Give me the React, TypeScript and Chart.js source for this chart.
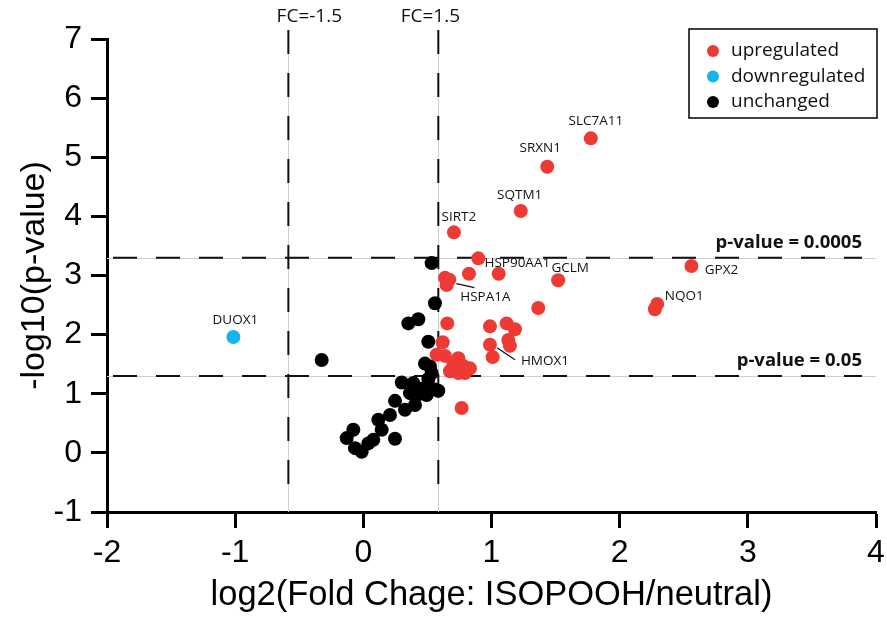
import React, { useEffect, useRef } from "react";
import { Chart, registerables } from "chart.js";

Chart.register(...registerables);

// ---------- data ----------
const upX = [1.775, 1.435, 1.228, 0.707, 0.897, 0.824, 1.056, 2.56, 1.52, 2.293, 2.275, 1.365, 0.637, 0.671, 0.65, 0.655, 0.988, 1.118, 1.183, 1.131, 1.144, 0.988, 1.009, 0.619, 0.572, 0.637, 0.741, 0.702, 0.78, 0.832, 0.676, 0.741, 0.793, 0.767];
const upY = [5.32, 4.84, 4.09, 3.73, 3.29, 3.03, 3.03, 3.16, 2.92, 2.52, 2.43, 2.45, 2.96, 2.93, 2.84, 2.19, 2.14, 2.19, 2.09, 1.91, 1.81, 1.83, 1.62, 1.87, 1.66, 1.64, 1.6, 1.49, 1.47, 1.43, 1.38, 1.35, 1.35, 0.76];
const upGenes = ["SLC7A11", "SRXN1", "SQTM1", "SIRT2", "HSP90AA1", "", "", "GPX2", "GCLM", "NQO1", "", "", "", "HSPA1A", "", "", "", "", "", "", "", "HMOX1", "", "", "", "", "", "", "", "", "", "", "", ""];

const downX = [-1.014];
const downY = [1.96];
const downGenes = ["DUOX1"];

const unX = [-0.325, 0.507, 0.481, 0.52, 0.533, 0.507, 0.3, 0.39, 0.416, 0.468, 0.507, 0.559, 0.585, 0.364, 0.442, 0.494, 0.403, 0.325, 0.247, 0.208, 0.117, 0.143, -0.078, -0.13, 0.078, 0.039, -0.065, -0.013, 0.247, 0.533, 0.559, 0.351, 0.429];
const unY = [1.57, 1.88, 1.51, 1.46, 1.35, 1.25, 1.19, 1.18, 1.07, 1.09, 1.12, 1.07, 1.05, 1.01, 1.0, 0.98, 0.81, 0.73, 0.88, 0.64, 0.56, 0.39, 0.39, 0.25, 0.22, 0.16, 0.08, 0.02, 0.24, 3.21, 2.53, 2.19, 2.26];

const seriesNames = ["upregulated", "downregulated", "unchanged"];
const fcValues = [-0.585, 0.585];
const fcLabels = ["FC=-1.5", "FC=1.5"];
const pValues = [3.301, 1.301];
const pLabels = ["p-value = 0.0005", "p-value = 0.05"];
const xMin = -2, xMax = 4, yMin = -1, yMax = 7;
const xTitle = "log2(Fold Chage: ISOPOOH/neutral)";
const yTitle = "-log10(p-value)";

// ---------- styles ----------
const RED = "#ee3a35";
const BLUE = "#14b4ec";
const BLACK = "#000000";
const COLORS = [RED, BLUE, BLACK];
const AXIS_FONT = "'Liberation Sans', Arial, sans-serif";
const ANN_FONT = "'Open Sans', 'Noto Sans', sans-serif";

// label offsets in pixels (text centre relative to point)
const labelOffsets: Record<string, [number, number]> = {
  SLC7A11: [5, -17],
  SRXN1: [-7, -19],
  SQTM1: [-1, -16],
  SIRT2: [5, -15],
  HSP90AA1: [39, 5],
  GCLM: [12, -12],
  GPX2: [30, 4],
  NQO1: [27, -8],
  HSPA1A: [36, 18],
  HMOX1: [55, 16],
  DUOX1: [2, -17],
};
const leaders: Record<string, [number, number, number, number]> = {
  HSPA1A: [7, 4, 25, 8],
  HMOX1: [7, 3, 25, 15],
};

const annotationPlugin = {
  id: "volcanoDecor",
  beforeDatasetsDraw(chart: any) {
    const { ctx, chartArea: a, scales } = chart;
    const xs = scales.x, ys = scales.y;
    ctx.save();
    // thin grey guide lines
    ctx.strokeStyle = "#cfcfcf";
    ctx.lineWidth = 1;
    fcValues.forEach((v) => {
      const px = Math.round(xs.getPixelForValue(v)) + 0.5;
      ctx.beginPath();
      ctx.moveTo(px, a.top);
      ctx.lineTo(px, a.bottom);
      ctx.stroke();
    });
    pValues.forEach((v) => {
      const py = Math.round(ys.getPixelForValue(v)) + 0.5;
      ctx.beginPath();
      ctx.moveTo(a.left, py);
      ctx.lineTo(a.right, py);
      ctx.stroke();
    });
    // dashed threshold lines
    ctx.strokeStyle = "#111";
    ctx.lineWidth = 2;
    ctx.setLineDash([24, 19]);
    pValues.forEach((v) => {
      const py = ys.getPixelForValue(v);
      ctx.beginPath();
      ctx.moveTo(a.left + 6, py);
      ctx.lineTo(a.right - 14, py);
      ctx.stroke();
    });
    fcValues.forEach((v) => {
      const px = xs.getPixelForValue(v);
      ctx.beginPath();
      ctx.moveTo(px, a.top - 9);
      ctx.lineTo(px, a.bottom - 10);
      ctx.stroke();
    });
    ctx.setLineDash([]);
    // FC labels
    ctx.fillStyle = "#111";
    ctx.font = `19px ${ANN_FONT}`;
    ctx.textAlign = "center";
    ctx.textBaseline = "middle";
    const fcDx = [21, -8];
    fcValues.forEach((v, i) => {
      ctx.fillText(fcLabels[i], xs.getPixelForValue(v) + fcDx[i], 17);
    });
    // p-value labels
    ctx.font = `bold 18.5px ${ANN_FONT}`;
    ctx.textAlign = "right";
    pValues.forEach((v, i) => {
      ctx.fillText(pLabels[i], a.right - 14, ys.getPixelForValue(v) - 15);
    });
    ctx.restore();
  },
  afterDatasetsDraw(chart: any) {
    const { ctx, chartArea: a, scales } = chart;
    const xs = scales.x, ys = scales.y;
    ctx.save();
    ctx.fillStyle = "#111";
    ctx.strokeStyle = "#111";
    ctx.lineWidth = 1.3;
    ctx.font = `13.5px ${ANN_FONT}`;
    ctx.textAlign = "center";
    ctx.textBaseline = "middle";
    const drawLabels = (xsArr: number[], ysArr: number[], genes: string[]) => {
      genes.forEach((g, i) => {
        if (!g) return;
        const px = xs.getPixelForValue(xsArr[i]);
        const py = ys.getPixelForValue(ysArr[i]);
        const off = labelOffsets[g] || [0, -16];
        ctx.fillText(g, px + off[0], py + off[1]);
        const l = leaders[g];
        if (l) {
          ctx.beginPath();
          ctx.moveTo(px + l[0], py + l[1]);
          ctx.lineTo(px + l[2], py + l[3]);
          ctx.stroke();
        }
      });
    };
    drawLabels(upX, upY, upGenes);
    drawLabels(downX, downY, downGenes);

    // legend box
    const bx = 689, by = 29, bw = a.right + 1 - 689, bh = 89;
    ctx.lineWidth = 1.5;
    ctx.strokeStyle = "#000";
    ctx.strokeRect(bx, by, bw, bh);
    ctx.font = `19px ${ANN_FONT}`;
    ctx.textAlign = "left";
    seriesNames.forEach((n, i) => {
      const cy = by + 22 + i * 25.5;
      ctx.fillStyle = COLORS[i];
      ctx.beginPath();
      ctx.arc(bx + 24, cy, 6, 0, Math.PI * 2);
      ctx.fill();
      ctx.fillStyle = "#111";
      ctx.fillText(n, bx + 42, cy);
    });
    ctx.restore();
  },
};

export default function App() {
  const ref = useRef<HTMLCanvasElement | null>(null);
  useEffect(() => {
    if (!ref.current) return;
    const mk = (xa: number[], ya: number[]) => xa.map((x, i) => ({ x, y: ya[i] }));
    const chart = new Chart(ref.current, {
      type: "scatter",
      data: {
        datasets: [
          { label: seriesNames[0], data: mk(upX, upY), backgroundColor: RED, pointRadius: 7, pointHoverRadius: 7, borderWidth: 0 },
          { label: seriesNames[1], data: mk(downX, downY), backgroundColor: BLUE, pointRadius: 7, pointHoverRadius: 7, borderWidth: 0 },
          { label: seriesNames[2], data: mk(unX, unY), backgroundColor: BLACK, pointRadius: 7, pointHoverRadius: 7, borderWidth: 0 },
        ],
      },
      options: {
        responsive: false,
        animation: false,
        layout: { padding: { top: 39, right: 11, bottom: 0, left: 0 } },
        plugins: { legend: { display: false }, tooltip: { enabled: false } },
        scales: {
          x: {
            type: "linear",
            min: xMin,
            max: xMax,
            afterFit: (s: any) => { s.height = 105; s.paddingRight = 0; s.paddingLeft = 0; },
            ticks: { stepSize: 1, color: "#000", padding: 6, maxRotation: 0, autoSkip: false, font: { family: AXIS_FONT, size: 32 } },
            grid: { drawOnChartArea: false, drawTicks: true, tickLength: 16, tickWidth: 3, tickColor: "#000", color: "#000" },
            border: { display: true, color: "#000", width: 3 },
            title: { display: true, text: xTitle, color: "#000", font: { family: AXIS_FONT, size: 34.5, lineHeight: 1.2 }, padding: { top: 0, bottom: 1 } },
          },
          y: {
            type: "linear",
            min: yMin,
            max: yMax,
            afterFit: (s: any) => { s.width = 107; s.paddingTop = 0; s.paddingBottom = 0; },
            ticks: { stepSize: 1, color: "#000", padding: 9, font: { family: AXIS_FONT, size: 32 } },
            grid: { drawOnChartArea: false, drawTicks: true, tickLength: 16, tickWidth: 3, tickColor: "#000", color: "#000" },
            border: { display: true, color: "#000", width: 3 },
            title: { display: true, text: yTitle, color: "#000", font: { family: AXIS_FONT, size: 34, lineHeight: 1.2 }, padding: { top: 14, bottom: 0 } },
          },
        },
      },
      plugins: [annotationPlugin],
    });
    return () => chart.destroy();
  }, []);
  return (
    <div style={{ position: "fixed", left: 0, top: 0, width: 887, height: 617, background: "#fff" }}>
      <canvas ref={ref} width={887} height={617} style={{ display: "block" }} />
    </div>
  );
}
